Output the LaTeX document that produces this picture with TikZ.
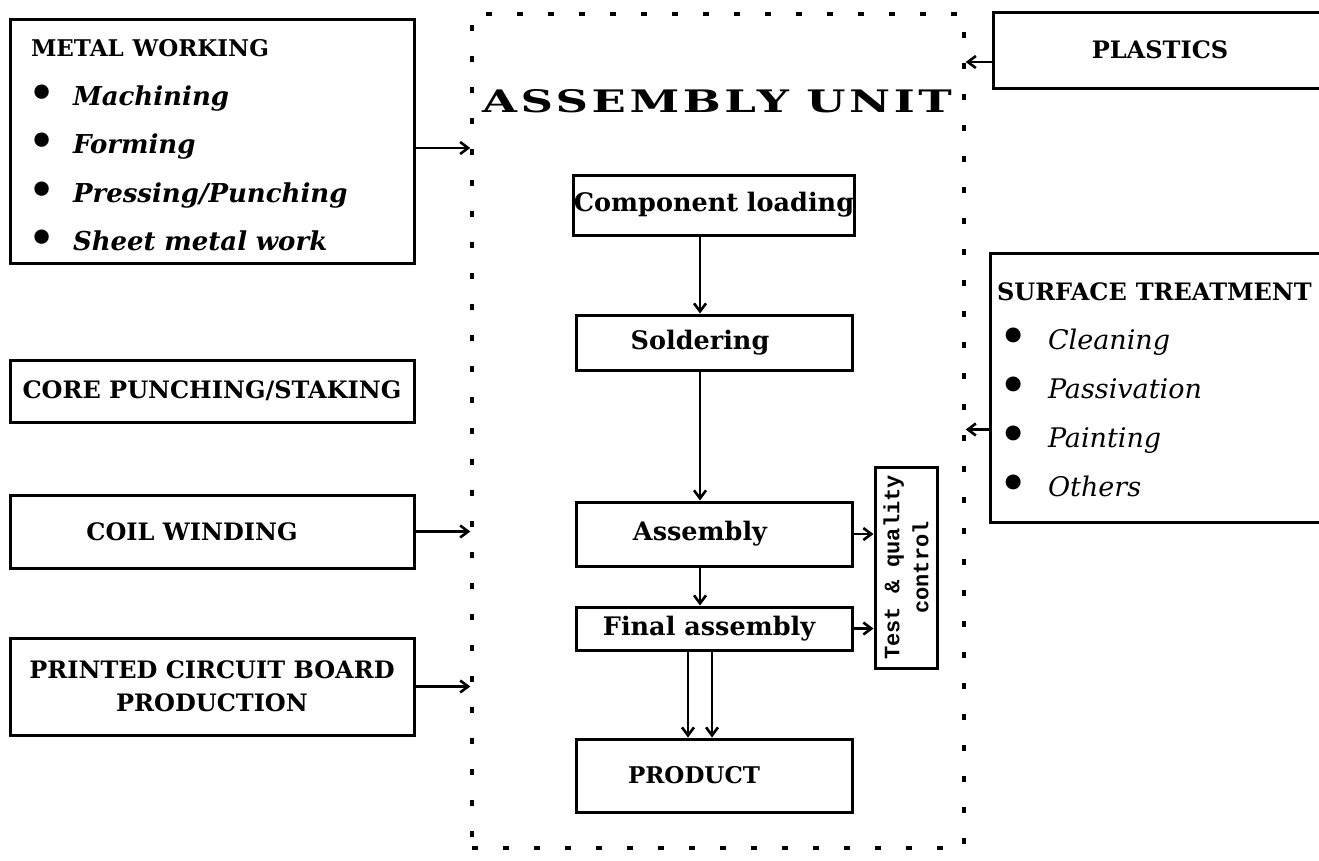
\documentclass[tikz,border=0pt]{standalone}
\usepackage{fontspec}
\setmainfont{DejaVu Serif}
\newfontfamily\monofont{Liberation Mono}
\newfontfamily\titlefont[LetterSpace=8]{DejaVu Serif}
\usepackage{tikz}
\usetikzlibrary{arrows.meta,positioning}

\newcommand\blt{\makebox[42pt][l]{\hspace{-4pt}\raisebox{-5pt}{\scalebox{1.9}{\textbullet}}}}
\newcommand\sblt{\hspace{1pt}\makebox[50pt][l]{\raisebox{-5pt}{\scalebox{1.9}{\textbullet}}}}

\begin{document}
\begin{tikzpicture}[
  x = 1pt, y = -1pt,
  box/.style      = {draw, line width=3pt, inner sep=0pt, align=center},
  capsbox/.style  = {box, font=\bfseries\fontsize{24}{33}\selectfont},
  stepbox/.style  = {box, minimum width=276pt,
                     font=\bfseries\fontsize{25.5}{28}\selectfont},
  listbox/.style  = {box, align=left},
  arr/.style      = {-{Straight Barb[length=8pt,width=12pt,line width=2.6pt]},
                     line width=2.6pt},
  unitframe/.style = {draw, line width=3.4pt, dash pattern=on 6pt off 25pt},
]
\useasboundingbox (0,0) rectangle (1319,860);
\clip (0,0) rectangle (1319,860);

%% ── ASSEMBLY UNIT FRAME ─────────────────────────────────────────────────
\node[unitframe, minimum width=492pt, minimum height=834pt] (unit) at (718,431) {};
\node[font=\titlefont\bfseries\fontsize{31}{36}\selectfont] (title) at (717,101)
  {\scalebox{1.45}[1]{ASSEMBLY\hspace{12pt}UNIT}};

%% ── LEFT COLUMN ─────────────────────────────────────────────────────────
\node[listbox, minimum width=404pt, minimum height=244pt, text width=362pt,
      inner xsep=21pt, font=\fontsize{26}{48.5}\selectfont] (metal) at (212,141)
  {\rule{0pt}{30pt}\textbf{\fontsize{23}{23}\selectfont METAL WORKING}\\
   \blt\textbf{\textit{Machining}}\\
   \blt\textbf{\textit{Forming}}\\
   \blt\textbf{\textit{Pressing/Punching}}\\
   \blt\textbf{\textit{Sheet metal work}}};
\node[capsbox, minimum width=404pt, minimum height=62pt] (core) at (212,391)
  {CORE PUNCHING/STAKING};
\node[capsbox, minimum width=404pt, minimum height=73pt] (coil) at (212,531.5)
  {COIL WINDING\hspace{40pt}};
\node[capsbox, minimum width=404pt, minimum height=97pt] (pcb) at (212,686.5)
  {PRINTED CIRCUIT BOARD\\PRODUCTION};

%% ── RIGHT COLUMN ────────────────────────────────────────────────────────
\node[capsbox, minimum width=334pt, minimum height=76pt] (plastics) at (1160,50)
  {PLASTICS};
\node[listbox, minimum width=350pt, minimum height=269pt, text width=336pt,
      inner xsep=7pt, font=\fontsize{27}{49}\selectfont] (surface) at (1165,387.5)
  {\rule{0pt}{26pt}\textbf{\fontsize{24}{24}\selectfont SURFACE TREATMENT}\\
   \sblt\textit{Cleaning}\\
   \sblt\textit{Passivation}\\
   \sblt\textit{Painting}\\
   \sblt\textit{Others}};

%% ── PROCESS STEPS ───────────────────────────────────────────────────────
\node[stepbox, minimum height=60pt] (loading)  at (714,205)   {Component loading};
\node[stepbox, minimum height=55pt] (solder)   at (714,342.5) {Soldering\hspace{28pt}};
\node[stepbox, minimum height=64pt] (asm)      at (714,534)   {Assembly\hspace{28pt}};
\node[stepbox, minimum height=43pt] (final)    at (714,628.5) {Final assembly\hspace{10pt}};
\node[stepbox, minimum height=73pt, font=\bfseries\fontsize{23}{28}\selectfont]
  (product) at (714,775.5) {PRODUCT\hspace{40pt}};
\node[box, minimum width=201pt, minimum height=62pt, rotate=90,
      font=\monofont\bfseries\fontsize{22}{29}\selectfont] (test) at (906,567.5)
  {Test \& quality\\control};

%% ── MAIN FLOW ───────────────────────────────────────────────────────────
\draw[arr] ([xshift=-14pt]loading.south) -- ([xshift=-14pt]solder.north);
\draw[arr] ([xshift=-14pt]solder.south)  -- ([xshift=-14pt]asm.north);
\draw[arr] ([xshift=-14pt]asm.south)     -- ([xshift=-14pt]final.north);
\draw[arr] ([xshift=-26pt]final.south)   -- ([xshift=-26pt]product.north);
\draw[arr] ([xshift=-2pt]final.south)    -- ([xshift=-2pt]product.north);

%% test & quality control
\draw[arr] (asm.east)   -- (asm.east -| test.north);
\draw[arr] (final.east) -- (final.east -| test.north);

%% ── FEEDS INTO THE UNIT ─────────────────────────────────────────────────
\draw[arr] ([yshift=-7pt]metal.east) -- ([yshift=-7pt]metal.east -| unit.west);
\draw[arr] (coil.east) -- (coil.east -| unit.west);
\draw[arr] (pcb.east)  -- (pcb.east -| unit.west);
\draw[arr] ([yshift=-12pt]plastics.west) -- ([yshift=-12pt]plastics.west -| unit.east);
\draw[arr] ([yshift=-42pt]surface.west)  -- ([yshift=-42pt]surface.west -| unit.east);

\end{tikzpicture}
\end{document}
